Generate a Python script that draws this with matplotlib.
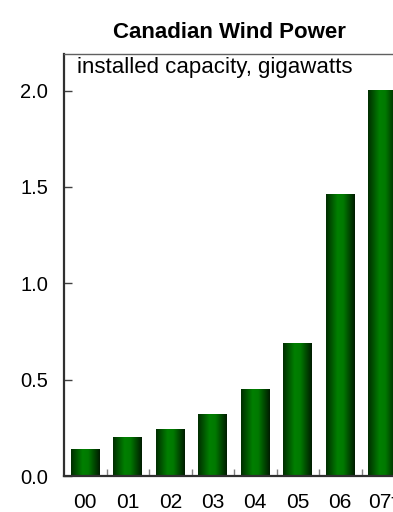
import matplotlib.pyplot as plt
import numpy as np

# --- data ---
YEARS = ["00", "01", "02", "03", "04", "05", "06", "07f"]
CAPACITY_GW = [0.14, 0.20, 0.24, 0.32, 0.45, 0.69, 1.46, 2.00]
Y_TICKS = [0.0, 0.5, 1.0, 1.5, 2.0]

plt.rcParams['font.family'] = ['Liberation Sans', 'DejaVu Sans']

fig = plt.figure(figsize=(3.93, 5.12), dpi=100)
W, H = 393, 512
# axes run past the right edge of the figure on purpose
ax = fig.add_axes([64 / W, 36 / H, 340 / W, 422 / H])

x = np.arange(len(YEARS))
bars = ax.bar(x, CAPACITY_GW, width=0.68, color='none', edgecolor='none')

# horizontal shading: dark edges, bright green slightly left of centre
t = np.linspace(0, 1, 256)
shade = np.interp(t, [0.0, 0.4, 0.6, 1.0], [0.35, 1.0, 0.95, 0.22])
base = np.array([0.0, 0.5, 0.0])
grad = (shade[:, None] * base[None, :])[None, :, :]
for b in bars:
    x0, y0 = b.get_x(), b.get_y()
    ax.imshow(grad, extent=[x0, x0 + b.get_width(), y0, y0 + b.get_height()],
              aspect='auto', interpolation='bilinear', zorder=2)

ax.set_xlim(-0.5, len(YEARS) - 0.5)
ax.set_ylim(0, 2.19)

ax.set_yticks(Y_TICKS)
ax.set_yticklabels([f"{v:.1f}" for v in Y_TICKS])
ax.set_xticks(x)
ax.set_xticklabels(YEARS)
ax.set_xticks(np.arange(0.5, len(YEARS) - 0.5, 1), minor=True)

ax.tick_params(axis='y', direction='in', length=6, width=1, color='#404040',
               labelsize=14.5, pad=11.5)
ax.tick_params(axis='x', which='major', length=0, labelsize=15, pad=12)
ax.tick_params(axis='x', which='minor', direction='in', length=5, width=1,
               color='#808080')

for side in ['left', 'bottom']:
    ax.spines[side].set_color('#303030')
    ax.spines[side].set_linewidth(1.6)
ax.spines['top'].set_color('#606060')
ax.spines['top'].set_linewidth(1.0)
ax.spines['right'].set_visible(False)

ax.text(13 / 340, 1 - 3 / 422, "installed capacity, gigawatts",
        transform=ax.transAxes, ha='left', va='top', fontsize=16)

fig.text(229 / W, 1 - 33 / H, "Canadian Wind Power", ha='center', va='center',
         fontsize=16, fontweight='bold')

fig.savefig("out.png", dpi=100)
